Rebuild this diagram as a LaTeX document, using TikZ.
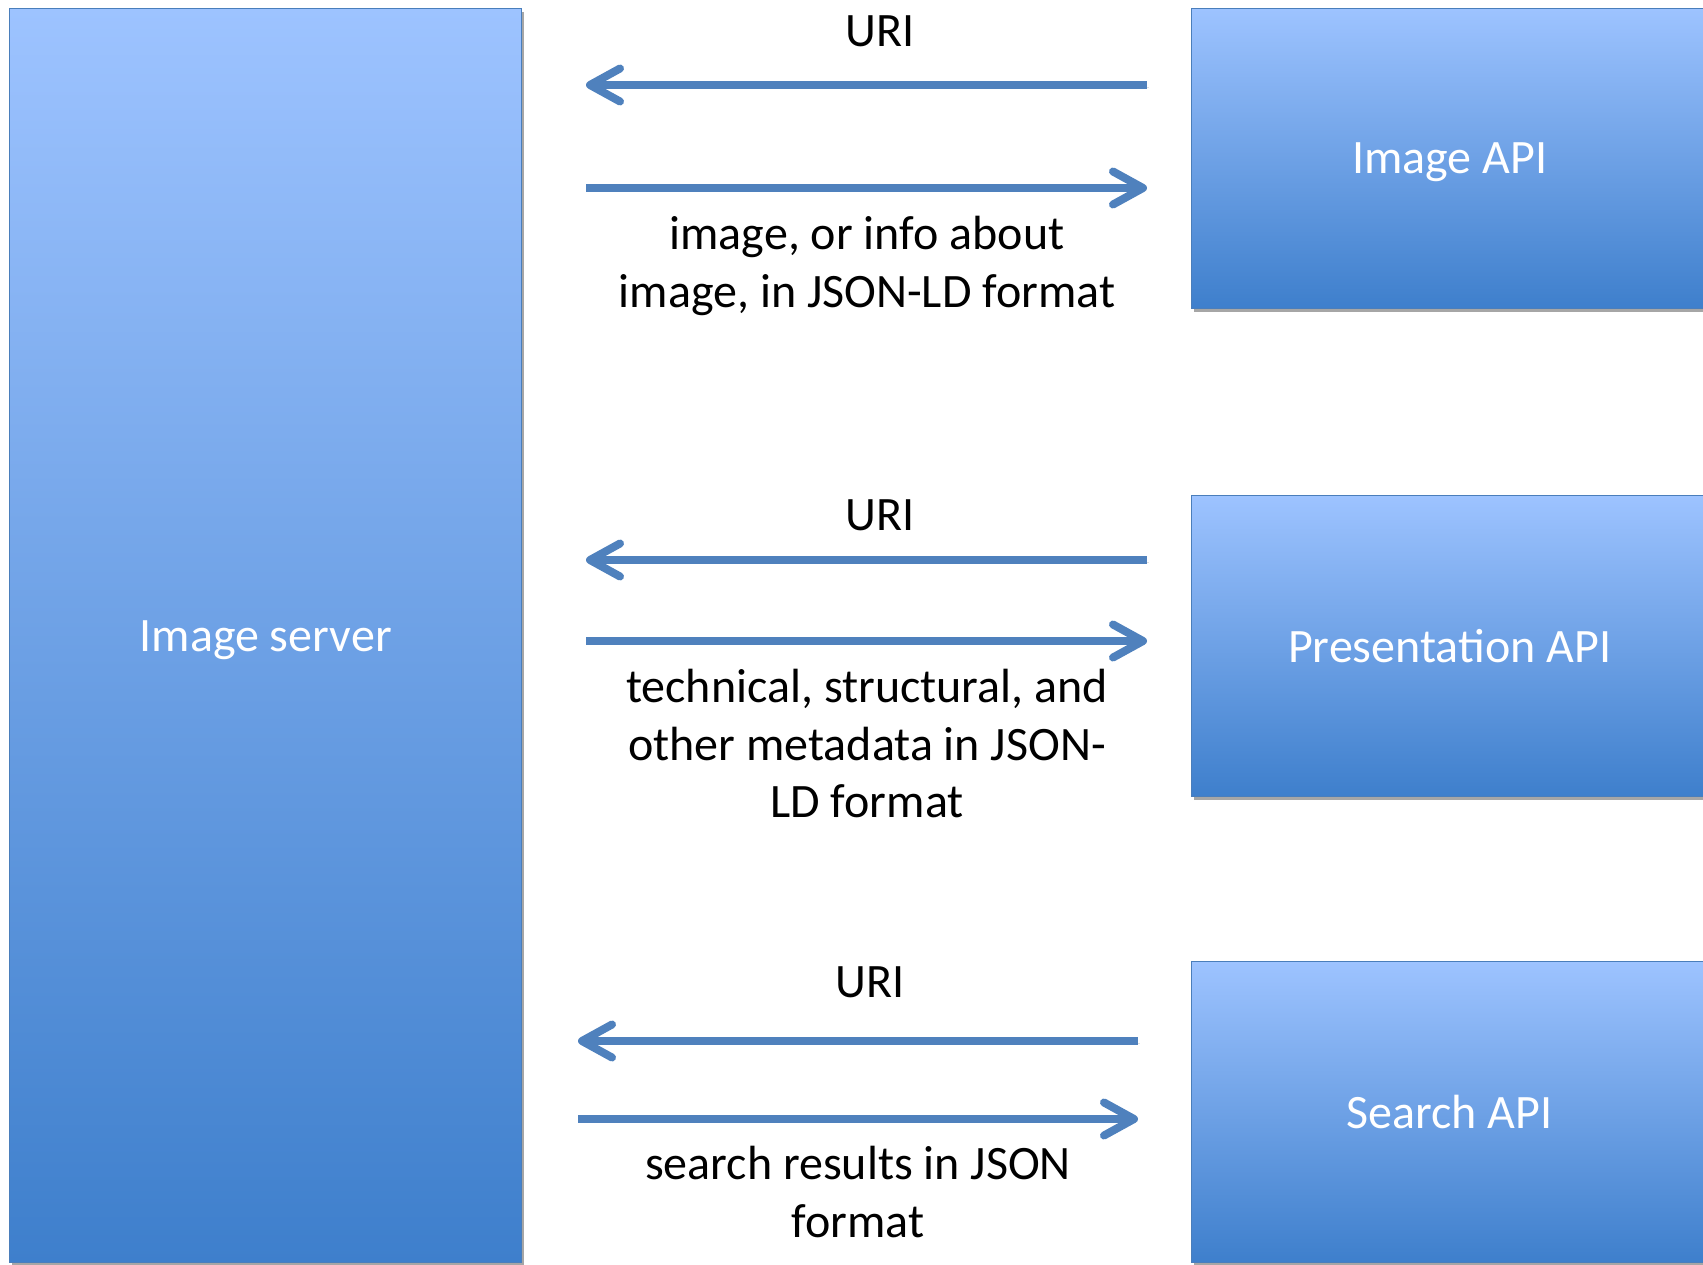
\documentclass[tikz,border=0pt]{standalone}
\usepackage{fontspec}
\setmainfont{Carlito}
\usetikzlibrary{arrows.meta,shadows}
\definecolor{gtop}{RGB}{157,195,255}
\definecolor{gbot}{RGB}{62,127,204}
\definecolor{edge}{RGB}{74,126,187}
\definecolor{arr}{RGB}{79,129,189}
\tikzset{
  apibox/.style={draw=edge, line width=1.2pt, top color=gtop, bottom color=gbot,
    anchor=north west, inner sep=0pt, text=white,
    font=\fontsize{48}{57.5}\selectfont,
    drop shadow={shadow xshift=2.5pt, shadow yshift=-3pt, opacity=0.35, fill=black}},
  flat/.style={text height=0pt, text depth=0pt},
  flow/.style={draw=arr, line width=8pt,
    -{Straight Barb[length=30pt,width=33pt,round]},
    preaction={draw=black, opacity=0.12, transform canvas={shift={(1.5pt,-2.5pt)}}}},
  lbl/.style={align=center, text=black, font=\fontsize{48}{57.5}\selectfont, inner sep=0pt}
}
\begin{document}
\begin{tikzpicture}[x=1pt,y=-1pt]
\useasboundingbox (0,0) rectangle (1703,1265);
\clip (0,0) rectangle (1703,1265);
\fill[white] (0,0) rectangle (1703,1265);
% boxes
\node[apibox, flat, minimum width=512pt, minimum height=1254pt] (srv) at (9,8) {\raisebox{-16pt}{Image server}};
\node[apibox, flat, minimum width=516pt, minimum height=300pt] (img) at (1191,8) {\raisebox{-15pt}{Image API}};
\node[apibox, minimum width=516pt, minimum height=301pt] (pres) at (1191,495) {Presentation API};
\node[apibox, minimum width=516pt, minimum height=301pt] (srch) at (1191,961) {Search API};
% arrow ends
\coordinate (r1a) at (1147,85);  \coordinate (l1a) at (586,85);
\coordinate (l1b) at (586,188);  \coordinate (r1b) at (1147,188);
\coordinate (r2a) at (1147,560); \coordinate (l2a) at (586,560);
\coordinate (l2b) at (586,641);  \coordinate (r2b) at (1147,641);
\coordinate (r3a) at (1138,1041); \coordinate (l3a) at (578,1041);
\coordinate (l3b) at (578,1119);  \coordinate (r3b) at (1138,1119);
\draw[flow] (r1a) -- (l1a);
\draw[flow] (l1b) -- (r1b);
\draw[flow] (r2a) -- (l2a);
\draw[flow] (l2b) -- (r2b);
\draw[flow] (r3a) -- (l3a);
\draw[flow] (l3b) -- (r3b);
% labels
\node[lbl] (u1) at (880,31) {URI};
\node[lbl, anchor=north] (t1) at (867,216) {image, or info about\\image, in JSON-LD format};
\node[lbl] (u2) at (880,515) {URI};
\node[lbl, anchor=north] (t2) at (867,669) {technical, structural, and\\other metadata in JSON-\\LD format};
\node[lbl] (u3) at (870,982) {URI};
\node[lbl, anchor=north] (t3) at (858,1146) {search results in JSON\\format};
\end{tikzpicture}
\end{document}
